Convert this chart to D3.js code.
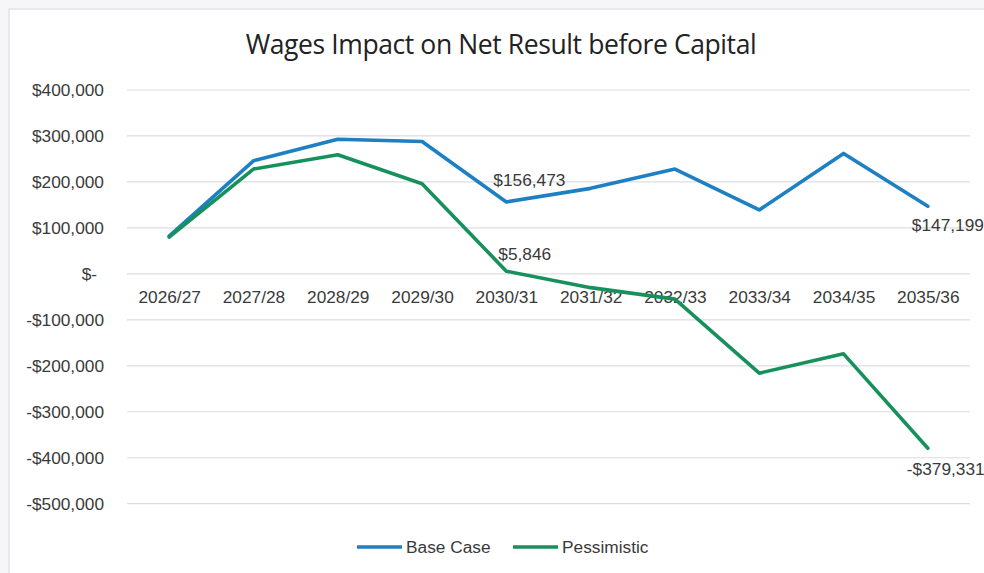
<!DOCTYPE html>
<html>
<head>
<meta charset="utf-8">
<script src="https://cdn.jsdelivr.net/npm/d3@7"></script>
<style>
  html, body { margin: 0; padding: 0; background: #f6f6f8; }
  svg { display: block; }
</style>
</head>
<body>
<svg id="chart" width="984" height="573"></svg>
<script>
// Financial years on the category axis
const categories = ["2026/27", "2027/28", "2028/29", "2029/30", "2030/31",
                    "2031/32", "2032/33", "2033/34", "2034/35", "2035/36"];

// Net result before capital, by scenario
const baseCase    = [82000, 246000, 293000, 288000, 156473, 186000, 228000, 139000, 262000, 147199];
const pessimistic = [80000, 228000, 259000, 196000, 5846, -30000, -55000, -216000, -174000, -379331];

const yTicks = [400000, 300000, 200000, 100000, 0, -100000, -200000, -300000, -400000, -500000];

const seriesNames = ["Base Case", "Pessimistic"];
const seriesColors = ["#1d80c3", "#17915c"];

// Points that carry a value label: [series index, category index]
const labelled = [[0, 4], [1, 4], [0, 9], [1, 9]];

const svg = d3.select("#chart");
const W = 984, H = 573;
const plot = { left: 127, right: 970, top: 90, bottom: 503.7 };
const labelFont = "'Liberation Sans', Arial, sans-serif";
const labelSize = 17.3;

// chart area panel
svg.append("rect")
  .attr("x", 9).attr("y", 9).attr("width", W + 20).attr("height", H + 20)
  .attr("fill", "#ffffff").attr("stroke", "#e2e2ea").attr("stroke-width", 1.5);

const x = d3.scalePoint().domain(categories).range([plot.left, plot.right]).padding(0.5);
const y = d3.scaleLinear().domain([-500000, 400000]).range([plot.bottom, plot.top]);

const money = d3.format(",.0f");
const fmt = v => v === 0 ? "$-" : (v < 0 ? "-$" + money(-v) : "$" + money(v));

// horizontal gridlines
svg.append("g").selectAll("line").data(yTicks).join("line")
  .attr("x1", plot.left).attr("x2", plot.right)
  .attr("y1", d => y(d)).attr("y2", d => y(d))
  .attr("stroke", "#dcdce6").attr("stroke-width", 1.2);

// value axis labels
const yAxis = svg.append("g")
  .attr("transform", `translate(${plot.left - 23},0)`)
  .call(d3.axisLeft(y).tickValues(yTicks).tickFormat(fmt).tickSize(0).tickPadding(0));
yAxis.select(".domain").remove();
yAxis.selectAll("text")
  .attr("font-family", labelFont)
  .attr("font-size", labelSize).attr("fill", "#3a3a3a")
  .attr("dx", d => d === 0 ? -7 : 0);

// category labels sit just under the zero line
const xAxis = svg.append("g")
  .attr("transform", `translate(0,${y(0)})`)
  .call(d3.axisBottom(x).tickSize(0).tickPadding(17));
xAxis.select(".domain").remove();
xAxis.selectAll("text")
  .attr("font-family", labelFont)
  .attr("font-size", labelSize).attr("fill", "#3a3a3a");

// scenario lines
const series = [baseCase, pessimistic];
const line = d3.line().x((d, i) => x(categories[i])).y(d => y(d));
svg.append("g").selectAll("path").data(series).join("path")
  .attr("d", line)
  .attr("fill", "none")
  .attr("stroke", (d, i) => seriesColors[i])
  .attr("stroke-width", 3.6)
  .attr("stroke-linejoin", "round")
  .attr("stroke-linecap", "round");

// value labels
const labelOffsets = {
  "0-4": [-13, -16], "1-4": [-8, -11],
  "0-9": [-16, 25], "1-9": [-21, 27]
};
svg.append("g").selectAll("text").data(labelled).join("text")
  .attr("x", ([s, c]) => x(categories[c]) + labelOffsets[s + "-" + c][0])
  .attr("y", ([s, c]) => y(series[s][c]) + labelOffsets[s + "-" + c][1])
  .attr("font-family", labelFont)
  .attr("font-size", labelSize).attr("fill", "#3a3a3a")
  .text(([s, c]) => fmt(series[s][c]));

// title
svg.append("text")
  .attr("x", 501).attr("y", 54)
  .attr("text-anchor", "middle")
  .attr("font-family", "'Open Sans', sans-serif")
  .attr("font-size", 26.5).attr("fill", "#222222")
  .attr("letter-spacing", -0.4)
  .text("Wages Impact on Net Result before Capital");

// legend
const legendX = [357, 513];
const legend = svg.append("g").selectAll("g").data(seriesNames).join("g")
  .attr("transform", (d, i) => `translate(${legendX[i]},547)`);
legend.append("line")
  .attr("x1", 0).attr("x2", 45).attr("y1", 0).attr("y2", 0)
  .attr("stroke", (d, i) => seriesColors[i]).attr("stroke-width", 3.6);
legend.append("text")
  .attr("x", 49).attr("y", 6)
  .attr("font-family", labelFont)
  .attr("font-size", labelSize).attr("fill", "#3a3a3a")
  .text(d => d);
</script>
</body>
</html>
